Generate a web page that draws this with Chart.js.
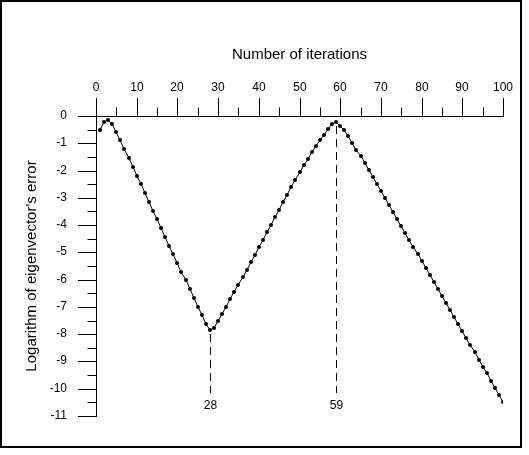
<!DOCTYPE html>
<html>
<head>
<meta charset="utf-8">
<script src="https://cdn.jsdelivr.net/npm/chart.js@4/dist/chart.umd.min.js"></script>
<style>
  body { margin: 0; background: #fff; }
  canvas { display: block; }
</style>
</head>
<body>
<canvas id="errChart" width="529" height="455"></canvas>
<script>
// iteration number of each point
const iterations = [
  1, 2, 3, 4, 5, 6, 7, 8, 9, 10,
  11, 12, 13, 14, 15, 16, 17, 18, 19, 20,
  21, 22, 23, 24, 25, 26, 27, 28, 29, 30,
  31, 32, 33, 34, 35, 36, 37, 38, 39, 40,
  41, 42, 43, 44, 45, 46, 47, 48, 49, 50,
  51, 52, 53, 54, 55, 56, 57, 58, 59, 60,
  61, 62, 63, 64, 65, 66, 67, 68, 69, 70,
  71, 72, 73, 74, 75, 76, 77, 78, 79, 80,
  81, 82, 83, 84, 85, 86, 87, 88, 89, 90,
  91, 92, 93, 94, 95, 96, 97, 98, 99, 100
];
// log of eigenvector error
const logError = [
  -0.52, -0.23, -0.16, -0.30, -0.57, -0.88, -1.21, -1.53, -1.86, -2.19,
  -2.51, -2.83, -3.15, -3.47, -3.79, -4.11, -4.43, -4.75, -5.07, -5.39,
  -5.71, -6.03, -6.35, -6.67, -6.99, -7.31, -7.62, -7.86, -7.78, -7.52,
  -7.25, -6.99, -6.72, -6.45, -6.19, -5.92, -5.65, -5.37, -5.10, -4.82,
  -4.55, -4.27, -4.00, -3.72, -3.45, -3.17, -2.90, -2.62, -2.35, -2.07,
  -1.80, -1.57, -1.31, -1.09, -0.89, -0.70, -0.48, -0.30, -0.21, -0.36,
  -0.52, -0.74, -0.99, -1.24, -1.48, -1.72, -1.97, -2.22, -2.48, -2.74,
  -2.99, -3.25, -3.51, -3.77, -4.03, -4.28, -4.54, -4.80, -5.06, -5.32,
  -5.57, -5.83, -6.09, -6.35, -6.61, -6.86, -7.12, -7.38, -7.64, -7.90,
  -8.15, -8.41, -8.67, -8.93, -9.19, -9.44, -9.70, -9.96, -10.22, -10.48
];
// marked iterations (dashed drop lines)
const markedIters = [28, 59];
// minor tick positions
const minorXTicks = [5, 15, 25, 35, 45, 55, 65, 75, 85, 95];
const minorYTicks = [-0.5, -1.5, -2.5, -3.5, -4.5, -5.5, -6.5, -7.5, -8.5, -9.5, -10.5];

const FONT = { family: 'Arial, "Liberation Sans", sans-serif', size: 12 };
const TITLE_FONT = { family: 'Arial, "Liberation Sans", sans-serif', size: 15 };

const points = iterations.map((it, i) => ({ x: it, y: logError[i] }));

// draws the frame, the half-length ticks and the dashed markers
const extrasPlugin = {
  id: 'extras',
  beforeDraw(chart) {
    const c = chart.ctx;
    c.save();
    c.fillStyle = '#fff';
    c.fillRect(0, 0, chart.width, chart.height);
    c.strokeStyle = '#000';
    c.lineWidth = 2;
    c.strokeRect(1, 1, 520, 446);
    c.restore();
  },
  afterDraw(chart) {
    const c = chart.ctx;
    const xs = chart.scales.x;
    const ys = chart.scales.y;
    const top = Math.round(ys.getPixelForValue(0)) + 0.5;
    const left = Math.round(xs.getPixelForValue(0)) + 0.5;
    c.save();
    c.strokeStyle = '#000';
    c.lineWidth = 1;
    c.beginPath();
    minorXTicks.forEach(v => {
      const px = Math.round(xs.getPixelForValue(v)) + 0.5;
      c.moveTo(px, top);
      c.lineTo(px, top - 9);
    });
    minorYTicks.forEach(v => {
      const py = Math.round(ys.getPixelForValue(v)) + 0.5;
      c.moveTo(left, py);
      c.lineTo(left - 9, py);
    });
    c.stroke();

    // dashed lines under the turning points
    c.setLineDash([8, 5]);
    c.font = '12px Arial, "Liberation Sans", sans-serif';
    c.fillStyle = '#000';
    c.textAlign = 'center';
    c.textBaseline = 'middle';
    markedIters.forEach(it => {
      const idx = iterations.indexOf(it);
      const px = Math.round(xs.getPixelForValue(it)) + 0.5;
      const yStart = ys.getPixelForValue(logError[idx]) + 4;
      const yEnd = ys.getPixelForValue(-10.15);
      c.beginPath();
      c.moveTo(px, yStart);
      c.lineTo(px, yEnd);
      c.stroke();
      c.fillText(String(it), px, ys.getPixelForValue(-10.62));
    });
    c.restore();
  }
};

new Chart(document.getElementById('errChart'), {
  type: 'scatter',
  data: {
    datasets: [{
      data: points,
      showLine: true,
      borderColor: '#000',
      borderWidth: 1,
      pointRadius: 2,
      pointBackgroundColor: '#000',
      pointBorderWidth: 0
    }]
  },
  options: {
    responsive: false,
    animation: false,
    layout: { padding: { left: 18, top: 44, right: 26, bottom: 39 } },
    plugins: { legend: { display: false }, tooltip: { enabled: false } },
    scales: {
      x: {
        type: 'linear',
        position: 'top',
        min: 0,
        max: 100,
        alignToPixels: true,
        afterFit: s => { s.height = 72; },
        ticks: { stepSize: 10, color: '#000', font: FONT, padding: 3, maxRotation: 0 },
        grid: { drawOnChartArea: false, drawTicks: true, tickLength: 18, color: '#000', lineWidth: 1 },
        border: { display: true, color: '#000', width: 1 },
        title: { display: true, text: 'Number of iterations', color: '#000', font: TITLE_FONT, padding: { top: 2, bottom: 0 } }
      },
      y: {
        type: 'linear',
        min: -11,
        max: 0,
        alignToPixels: true,
        afterFit: s => { s.width = 78; },
        ticks: { stepSize: 1, color: '#000', font: FONT, padding: 11 },
        grid: { drawOnChartArea: false, drawTicks: true, tickLength: 18, color: '#000', lineWidth: 1 },
        border: { display: true, color: '#000', width: 1 },
        title: { display: true, text: "Logarithm of eigenvector's error", color: '#000', font: TITLE_FONT, padding: { top: 5, bottom: 0 } }
      }
    }
  },
  plugins: [extrasPlugin]
});
</script>
</body>
</html>
